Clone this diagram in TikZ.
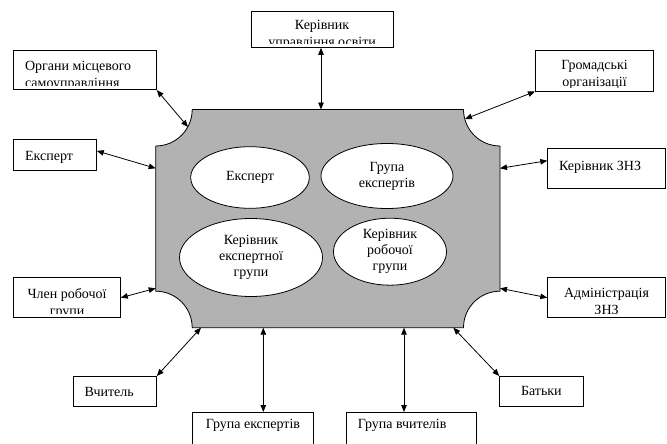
\documentclass[tikz,border=0pt]{standalone}
\usepackage{fontspec}
\setmainfont{Liberation Serif}
\usetikzlibrary{arrows.meta,shapes.geometric}

\begin{document}
\begin{tikzpicture}[x=1pt, y=-1pt, line width=0.8pt,
  every node/.style={font=\fontsize{14}{17}\selectfont},
  tbox/.style={draw, fill=white, inner sep=0pt, anchor=north west},
  txt/.style={draw=none, fill=none, inner sep=0pt, minimum width=0pt, minimum height=0pt},
  ctext/.style 2 args={path picture={
    \clip ([yshift=4pt]path picture bounding box.south west) rectangle (path picture bounding box.north east);
    \node[txt, align=center, anchor=north] at ([yshift=-#1]path picture bounding box.north) {#2};}},
  ltext/.style 2 args={path picture={
    \clip ([yshift=4pt]path picture bounding box.south west) rectangle (path picture bounding box.north east);
    \node[txt, align=left, anchor=north west] at ([xshift=11pt, yshift=-#1]path picture bounding box.north west) {#2};}},
  oval/.style={ellipse, draw, fill=white, inner sep=0pt, align=center, font=\fontsize{14}{16}\selectfont},
  link/.style={{Triangle[length=7pt,width=5.5pt]}-{Triangle[length=7pt,width=5.5pt]}}]

  \useasboundingbox (0,0) rectangle (667,444);
  \clip (0,0) rectangle (667,444);

  % Grey plate with cut-in corners
  \draw[fill=black!30] (192.2,109.5) -- (463.5,109.5)
    arc[start angle=180, end angle=90, radius=36.5] -- (500,291.2)
    arc[start angle=270, end angle=180, radius=36.5] -- (192.2,327.7)
    arc[start angle=0, end angle=-90, radius=36.5] -- (155.7,146)
    arc[start angle=90, end angle=0, radius=36.5] -- cycle;

  % Points on the plate border
  \coordinate (pOrg) at (188,127);
  \coordinate (pEks) at (155.7,168.3);
  \coordinate (pKer) at (321,109.5);
  \coordinate (pHrom) at (465,119);
  \coordinate (pKznz) at (500,168.3);
  \coordinate (pChlen) at (155.7,288.3);
  \coordinate (pVch) at (201,327.7);
  \coordinate (pAdm) at (500,288.3);
  \coordinate (pBat) at (453.3,327.7);
  \coordinate (pGE) at (263.3,327.7);
  \coordinate (pGV) at (404,327.7);

  % Ovals inside the plate
  \node[oval, minimum width=118.6pt, minimum height=61.6pt] (eEks) at (250,177.5) {Експерт};
  \node[oval, minimum width=132pt, minimum height=65pt] (eGrp) at (387,176) {Група\\експертів};
  \node[oval, minimum width=143pt, minimum height=78pt] (eKerE) at (251,257.5) {Керівник\\експертної\\групи};
  \node[oval, minimum width=113pt, minimum height=67pt] (eKerR) at (390,251.7) {Керівник\\робочої\\групи};

  % Outer boxes
  \node[tbox, minimum width=142.7pt, minimum height=39.3pt, ltext={10.5pt}{Органи місцевого\\самоуправління}] (org) at (13.3,50) {};
  \node[tbox, minimum width=142pt, minimum height=36pt, ctext={8.5pt}{Керівник\\управління освіти}] (ker) at (250.7,11) {};
  \node[tbox, minimum width=118.3pt, minimum height=40.7pt, ctext={9.5pt}{Громадські\\організації}] (hrom) at (535,50) {};
  \node[tbox, minimum width=82.7pt, minimum height=31pt, ltext={11.5pt}{Експерт}] (eks) at (13.3,139) {};
  \node[tbox, minimum width=117.7pt, minimum height=40pt, ltext={12pt}{Керівник ЗНЗ}] (kznz) at (547.3,148.3) {};
  \node[tbox, minimum width=106.7pt, minimum height=40pt, ctext={10.5pt}{Член робочої\\групи}] (chlen) at (13.3,277.3) {};
  \node[tbox, minimum width=117.7pt, minimum height=40pt, ctext={10.5pt}{Адміністрація\\ЗНЗ}] (adm) at (547.3,277.3) {};
  \node[tbox, minimum width=83.3pt, minimum height=30pt, ltext={11pt}{Вчитель}] (vch) at (72.7,376) {};
  \node[tbox, minimum width=83.3pt, minimum height=30pt, ctext={10pt}{Батьки}] (bat) at (499.3,376) {};
  \node[tbox, minimum width=121.7pt, minimum height=40pt, ctext={6pt}{Група експертів}] (ge) at (191.7,412) {};
  \node[tbox, minimum width=130pt, minimum height=40pt, ltext={6pt}{Група вчителів}] (gv) at (346,412) {};

  % Two-way links
  \draw[link] (org.south east) -- (pOrg);
  \draw[link] ([yshift=4pt]eks.east) -- (pEks);
  \draw[link] (ker.south -| pKer) -- (pKer);
  \draw[link] (hrom.south west) -- (pHrom);
  \draw[link] ([yshift=8pt]kznz.west) -- (pKznz);
  \draw[link] (chlen.east) -- (pChlen);
  \draw[link] (vch.north east) -- (pVch);
  \draw[link] (adm.west) -- (pAdm);
  \draw[link] (bat.north west) -- (pBat);
  \draw[link] (ge.north -| pGE) -- (pGE);
  \draw[link] (gv.north -| pGV) -- (pGV);
\end{tikzpicture}
\end{document}
